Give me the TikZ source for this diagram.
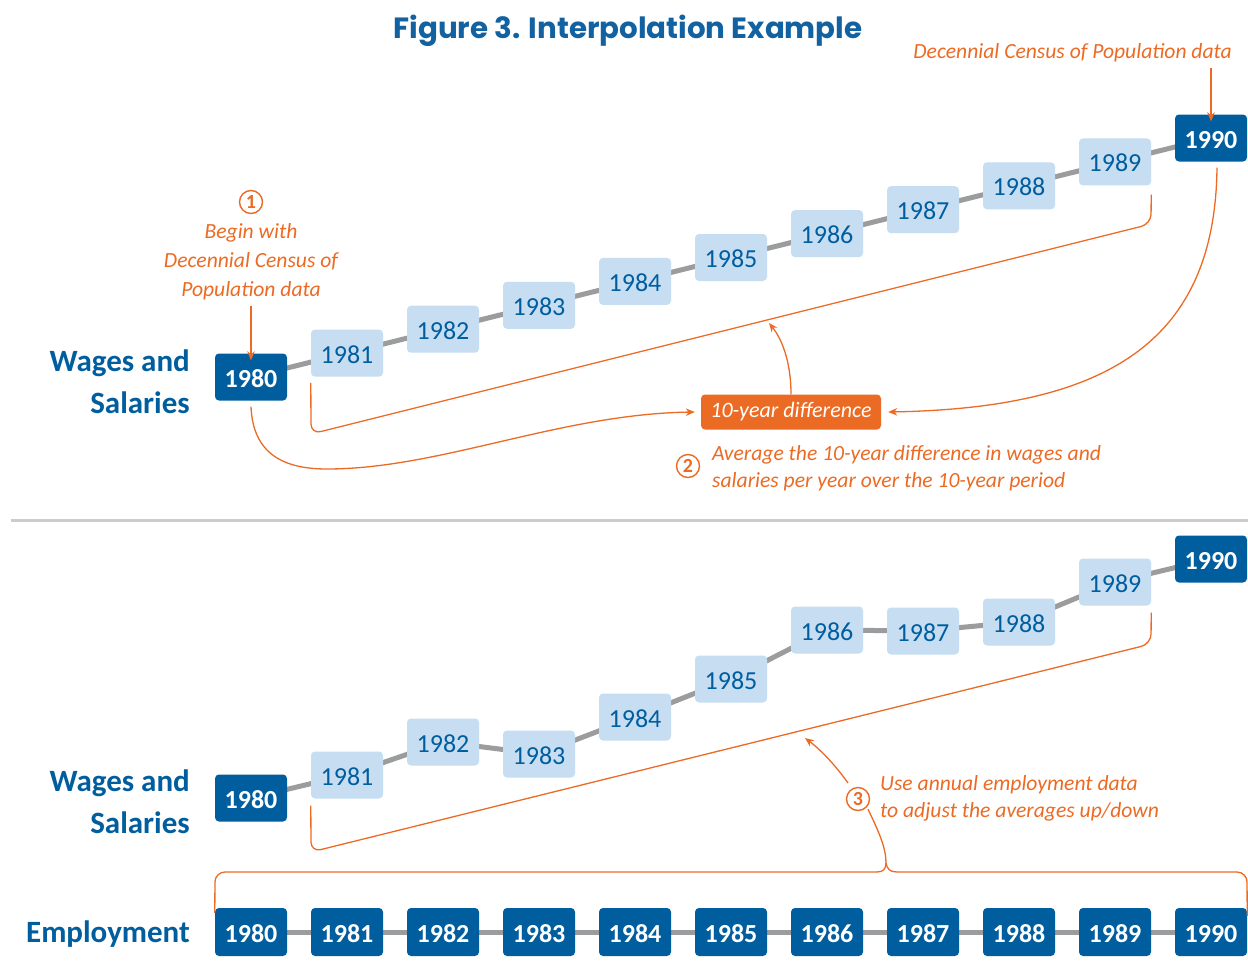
\documentclass[tikz,border=0pt]{standalone}
\usepackage{fontspec}
\setmainfont{Carlito}
\newfontfamily\titlefont{Poppins}
\usetikzlibrary{arrows.meta,backgrounds}
\definecolor{dblue}{HTML}{005E9F}
\definecolor{lblue}{HTML}{C6DDF2}
\definecolor{tblue}{HTML}{1262A1}
\definecolor{orng}{HTML}{EC6B24}
\definecolor{cgray}{HTML}{9A9C9E}
\definecolor{sgray}{HTML}{C9CDCD}
\tikzset{
  yrdark/.style={rectangle, rounded corners=4pt, fill=dblue, text=white, minimum width=72pt, minimum height=47pt, inner sep=0pt, text height=20pt, text depth=0pt, font=\fontsize{26}{26}\selectfont\bfseries},
  yrlight/.style={rectangle, rounded corners=4pt, fill=lblue, text=dblue, minimum width=72pt, minimum height=47pt, inner sep=0pt, text height=20pt, text depth=0pt, font=\fontsize{26}{26}\selectfont},
  conn/.style={draw=cgray, line width=5pt},
  oline/.style={draw=orng, line width=1.3pt},
  oarrow/.style={oline, -{Stealth[length=9pt,width=7.5pt]}},
  otext/.style={text=orng, font=\fontsize{21.6}{27}\selectfont\itshape},
  numc/.style={circle, draw=orng, line width=1.4pt, text=orng, minimum size=23pt, inner sep=0pt, font=\fontsize{20}{20}\selectfont\bfseries},
  rowlabel/.style={text=dblue, font=\fontsize{31}{42}\selectfont\bfseries, align=right, anchor=east, inner sep=0pt},
  diffbox/.style={rectangle, rounded corners=4pt, fill=orng, text=white, minimum width=180pt, minimum height=35pt, inner sep=0pt, font=\fontsize{22}{22}\selectfont\itshape}
}
\begin{document}
\begin{tikzpicture}[x=1pt,y=-1pt]
\useasboundingbox (0,0) rectangle (1248,977);

% title
\node[text=tblue, font=\titlefont\bfseries\fontsize{29.3}{29.3}\selectfont, inner sep=0pt] (title) at (628,31) {Figure 3. Interpolation Example};

% ---------- top panel ----------
\node[rowlabel] (wl1) at (190,382) {Wages and\\Salaries};
\node[yrdark] (t0) at (251,377) {1980};
\foreach \i in {1,...,9} {
  \pgfmathtruncatemacro{\yr}{1980+\i}
  \node[yrlight] (t\i) at ({251+96*\i},{377-23.9*\i}) {\yr};
}
\node[yrdark] (t10) at (1211,138) {1990};

% annotation 1
\node[numc] (n1) at (251,202) {1};
\node[otext, align=center, inner sep=0pt, font=\fontsize{21.6}{29}\selectfont\itshape] (begin) at (251,262) {Begin with\\Decennial Census of\\Population data};
\draw[oarrow] (251,306) -- ([yshift=-7pt]t0.north);

% top right annotation
\node[otext, anchor=east, inner sep=0pt] (dcp) at (1232,53) {Decennial Census of Population data};
\draw[oarrow] (1211,68) -- ([yshift=-7pt]t10.north);

% bracket top
\draw[oline, rounded corners=10pt] ([yshift=-6pt]t1.south west) -- (311,434) -- (1151,224) -- ([yshift=-9pt]t9.south east);

% difference box
\node[diffbox] (diff) at (791,412) {10-year difference};
\coordinate (tip1) at (769,323);
\draw[oarrow] (diff.north) .. controls (791,360) and (781,338) .. (tip1);
\draw[oarrow] ([yshift=-6pt]t0.south) .. controls (253,455) and (285,469) .. (327,469)
   .. controls (440,469) and (560,414) .. ([xshift=-6pt]diff.west);
\draw[oarrow] ([xshift=6pt,yshift=-6pt]t10.south) .. controls (1215,340) and (1110,408) .. ([xshift=7pt]diff.east);

% annotation 2
\node[numc] (n2) at (688,466) {2};
\node[otext, align=left, anchor=west, inner sep=0pt] (avg) at (712,468) {Average the 10-year difference in wages and\\salaries per year over the 10-year period};

% separator
\draw[sgray, line width=3pt] (11,520) -- (1248,520);

% ---------- bottom panel ----------
\node[rowlabel] (wl2) at (190,802) {Wages and\\Salaries};
\node[yrdark] (b0) at (251,798) {1980};
\foreach \i/\yy in {1/775,2/742,3/754,4/717,5/679,6/630,7/631,8/622,9/582} {
  \pgfmathtruncatemacro{\yr}{1980+\i}
  \node[yrlight] (b\i) at ({251+96*\i},\yy) {\yr};
}
\node[yrdark] (b10) at (1211,559) {1990};

% bracket bottom
\draw[oline, rounded corners=10pt] ([yshift=-7pt]b1.south west) -- (311,852) -- (1151,644) -- ([yshift=-7pt]b9.south east);

% annotation 3
\node[numc] (n3) at (858,799) {3};
\node[otext, align=left, anchor=west, inner sep=0pt] (use) at (880,798) {Use annual employment data\\to adjust the averages up/down};
\coordinate (tip3) at (805,738);
\draw[oarrow] (848,783) .. controls (836,766) and (821,750) .. (tip3);

% ---------- employment row ----------
\node[rowlabel] (emp) at (190,934) {Employment};
\foreach \i in {0,...,10} {
  \pgfmathtruncatemacro{\yr}{1980+\i}
  \node[yrdark, minimum height=48pt] (e\i) at ({251+96*\i},932) {\yr};
}

% gray connectors behind the boxes
\begin{scope}[on background layer]
  \fill[white] (0,0) rectangle (1248,977);
  \foreach \i [evaluate=\i as \j using int(\i+1)] in {0,...,9} {
    \draw[conn] (t\i.center) -- (t\j.center);
    \draw[conn] (b\i.center) -- (b\j.center);
    \draw[conn] (e\i.center) -- (e\j.center);
  }
\end{scope}

% brace
\coordinate (peak) at (886,863);
\draw[oline, rounded corners=10pt] ([yshift=-5pt]e0.north west) -- (215,872) -- (877,872);
\draw[oline] (877,872) .. controls (883,872) and (886,869) .. (peak);
\draw[oline] (peak) .. controls (887,869) and (890,872) .. (897,872);
\draw[oline, rounded corners=10pt] (897,872) -- (1247,872) -- ([yshift=-8pt]e10.north east);
\draw[oline] ([xshift=10pt,yshift=2pt]n3.south) .. controls (879,832) and (886,848) .. (peak);
\end{tikzpicture}
\end{document}
